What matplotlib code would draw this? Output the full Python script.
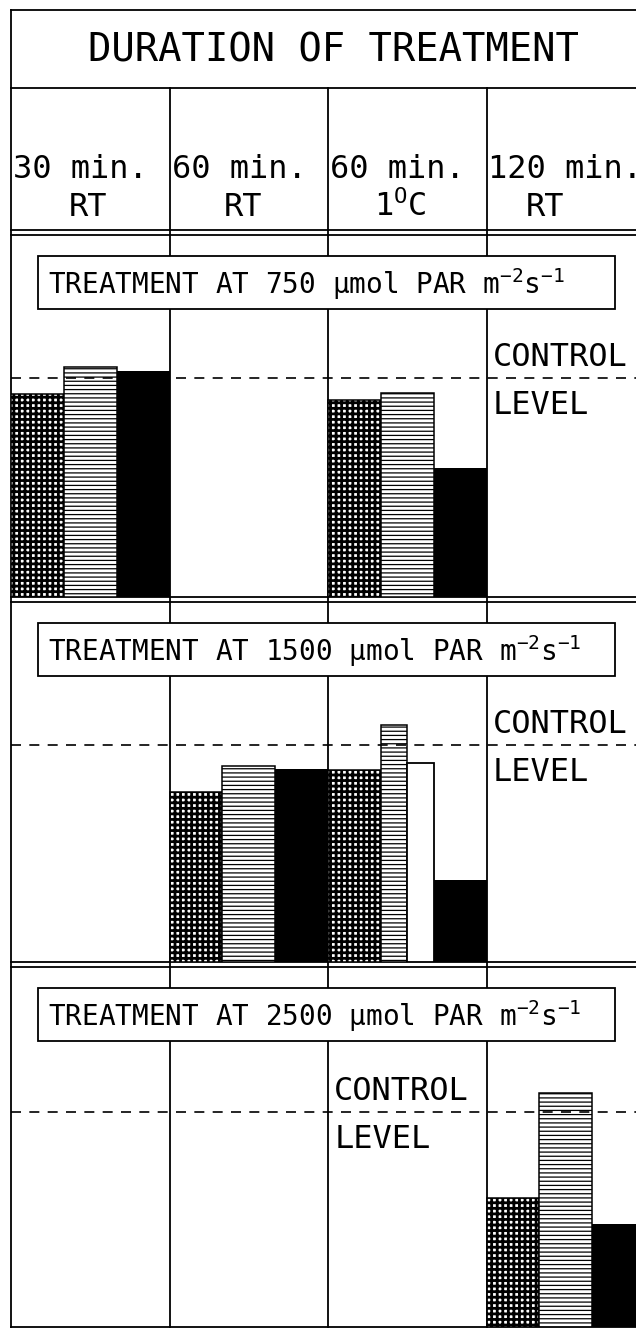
import numpy as np
import matplotlib
matplotlib.use("Agg")
import matplotlib.pyplot as plt
from matplotlib.patches import Rectangle

plt.rcParams['font.family'] = ['DejaVu Sans Mono']
plt.rcParams['mathtext.fontset'] = 'custom'
plt.rcParams['mathtext.rm'] = 'DejaVu Sans Mono'
plt.rcParams['mathtext.it'] = 'DejaVu Sans Mono'
plt.rcParams['mathtext.bf'] = 'DejaVu Sans Mono:bold'

nan = np.nan

title = "DURATION OF TREATMENT"
col_line1 = ["30 min.", "60 min.", "60 min.", "120 min."]
col_line2 = ["RT", "RT", "1$^{\\mathregular{O}}$C", "RT"]
intensities = [750, 1500, 2500]
control = 100

# values in % of control level, one row per light intensity (nan = no bar)
grid_vals = [[92.6, nan, 90.0, nan],
             [nan, 78.3, 88.5, nan],
             [nan, nan, nan, 60.0]]
hz_vals = [[105.2, nan, 93.0, nan],
           [nan, 90.3, 109.2, nan],
           [nan, nan, nan, 108.8]]
white_vals = [[nan, nan, nan, nan],
              [nan, nan, 91.7, nan],
              [nan, nan, nan, nan]]
black_vals = [[103.2, nan, 59.0, nan],
              [nan, 88.9, 37.8, nan],
              [nan, nan, nan, 47.9]]
control_col = [3, 3, 2]   # column that carries the "CONTROL LEVEL" label

# ---- layout (pixels) ----
W, H = 636, 1328
x0, cw = 11, 158.5
col_x = [x0 + i * cw for i in range(5)]
panel_tb = [(235, 597), (602, 962), (967, 1327)]
ctrl_px = [378, 745, 1112]
lw = 1.3

fig = plt.figure(figsize=(W / 100, H / 100), dpi=100)
ax0 = fig.add_axes([0, 0, 1, 1])
ax0.set_xlim(0, W)
ax0.set_ylim(H, 0)
ax0.axis('off')

# frame and table lines
ax0.plot([x0, x0], [10, H], color='k', lw=lw)
for y in [10, 88, 230, 235, 597, 602, 962, 967, 1327]:
    ax0.plot([x0, W + 10], [y, y], color='k', lw=lw)
for x in col_x[1:4]:
    ax0.plot([x, x], [88, H], color='k', lw=lw, zorder=1)

ax0.text(333, 51, title, ha='center', va='center', fontsize=28)
rt_off = [77, 73, 72, 59]
for i in range(4):
    ax0.text(col_x[i] + 2, 178, col_line1[i], ha='left', va='baseline', fontsize=23)
    ax0.text(col_x[i] + rt_off[i], 216, col_line2[i], ha='center', va='baseline', fontsize=23)


def set_hatch_lw(bars, width):
    for b in bars:
        if hasattr(b, 'set_hatch_linewidth'):
            b.set_hatch_linewidth(width)


cols = np.arange(4)
for p in range(3):
    t, b = panel_tb[p]
    ax = fig.add_axes([x0 / W, 1 - b / H, 4 * cw / W, (b - t) / H])
    ax.set_xlim(0, 4)
    ax.set_ylim(0, control * (b - t) / (b - ctrl_px[p]))
    ax.axis('off')

    g = np.array(grid_vals[p])
    hz = np.array(hz_vals[p])
    wh = np.array(white_vals[p])
    bk = np.array(black_vals[p])
    hz_w = np.where(np.isnan(wh), 1 / 3, 1 / 6)

    m = ~np.isnan(g)
    plt.rcParams['hatch.linewidth'] = 2.0
    bars = ax.bar(cols[m], g[m], width=1 / 3, align='edge', facecolor='white',
                  edgecolor='k', hatch='+++', lw=1.1, zorder=2)
    set_hatch_lw(bars, 2.0)

    m = ~np.isnan(hz)
    plt.rcParams['hatch.linewidth'] = 0.9
    bars = ax.bar(cols[m] + 1 / 3, hz[m], width=hz_w[m], align='edge', facecolor='white',
                  edgecolor='k', hatch='----', lw=1.1, zorder=2)
    set_hatch_lw(bars, 0.9)

    m = ~np.isnan(wh)
    if m.any():
        ax.bar(cols[m] + 1 / 2, wh[m], width=1 / 6, align='edge', facecolor='white',
               edgecolor='k', lw=1.3, zorder=2)

    m = ~np.isnan(bk)
    ax.bar(cols[m] + 2 / 3, bk[m], width=1 / 3, align='edge', color='k', lw=0, zorder=2)

    ax.axhline(control, color='k', lw=1.2, dashes=(6, 5), zorder=5)
    ax.annotate("CONTROL", xy=(control_col[p], control), xytext=(4.5, 8.6),
                textcoords='offset points', ha='left', va='baseline', fontsize=23)
    ax.annotate("LEVEL", xy=(control_col[p], control), xytext=(4.5, -8.6),
                textcoords='offset points', ha='left', va='top', fontsize=23)

    # intensity label box
    ax0.add_patch(Rectangle((38, t + 21), 577, 53, facecolor='white', edgecolor='k',
                            lw=lw, zorder=3))
    ax0.text(48, t + 59, f"TREATMENT AT {intensities[p]} µmol PAR m$^{{-2}}$s$^{{-1}}$",
             ha='left', va='baseline', fontsize=20, zorder=4)

fig.savefig("out.png", dpi=100, facecolor='white')
